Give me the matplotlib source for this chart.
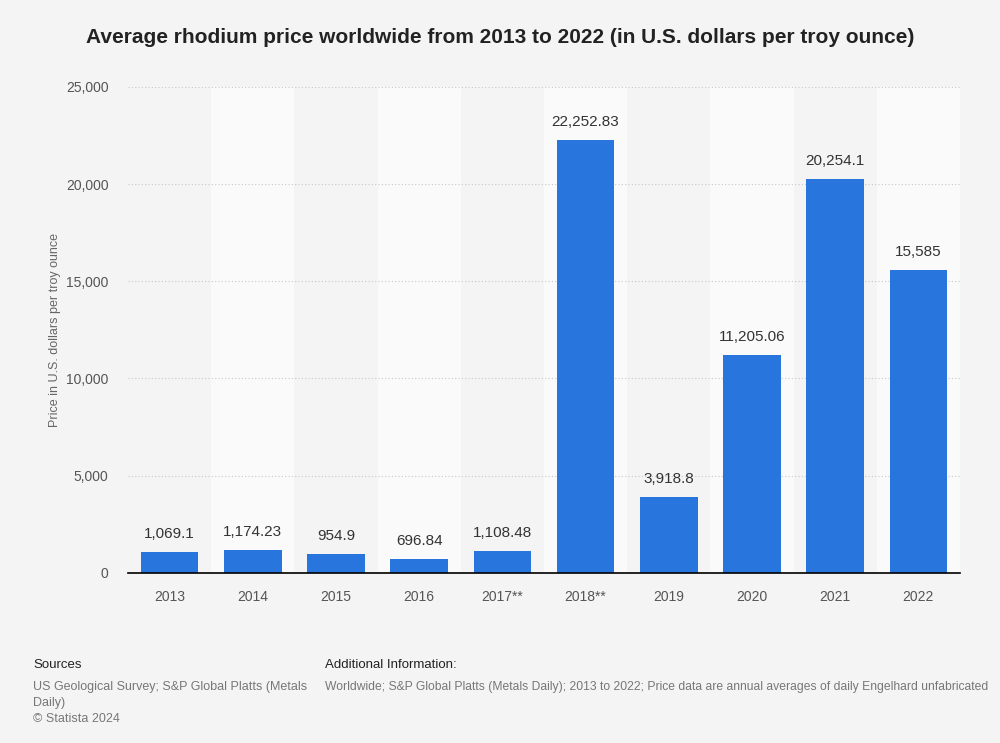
import numpy as np
import matplotlib.pyplot as plt

plt.rcParams['font.family'] = ['Liberation Sans', 'DejaVu Sans']

years = ['2013', '2014', '2015', '2016', '2017**', '2018**', '2019', '2020', '2021', '2022']
prices = [1069.1, 1174.23, 954.9, 696.84, 1108.48, 22252.83, 3918.8, 11205.06, 20254.1, 15585]
labels = ['1,069.1', '1,174.23', '954.9', '696.84', '1,108.48', '22,252.83',
          '3,918.8', '11,205.06', '20,254.1', '15,585']
yticks = [0, 5000, 10000, 15000, 20000, 25000]

bg = '#f4f4f4'
fig = plt.figure(figsize=(10, 7.43), dpi=100, facecolor=bg)
ax = fig.add_axes([0.128, 0.229, 0.832, 0.654])
ax.set_facecolor(bg)

x = np.arange(len(years))
# lighter bands behind every second category
for i in x:
    if i % 2 == 1:
        ax.axvspan(i - 0.5, i + 0.5, color='#fafafa', zorder=0, lw=0)

ax.bar(x, prices, width=0.69, color='#2876dd', zorder=3)
for xi, v, lab in zip(x, prices, labels):
    ax.annotate(lab, (xi, v), xytext=(0, 8), textcoords='offset points',
                ha='center', va='bottom', fontsize=11, color='#333333')

ax.set_xlim(-0.5, len(years) - 0.5)
ax.set_ylim(0, 25000)
ax.set_yticks(yticks)
ax.set_yticklabels(['{:,}'.format(t) for t in yticks])
ax.set_xticks(x)
ax.set_xticklabels(years)
ax.yaxis.grid(True, linestyle=(0, (1, 2)), color='#c8c8c8', lw=0.8, zorder=1)
ax.tick_params(axis='both', length=0, labelsize=10, labelcolor='#555555')
ax.tick_params(axis='x', pad=12)
ax.tick_params(axis='y', pad=14)
for s in ['top', 'right', 'left']:
    ax.spines[s].set_visible(False)
ax.spines['bottom'].set_color('#000000')
ax.spines['bottom'].set_linewidth(1.2)
ax.spines['bottom'].set_zorder(4)
ax.set_ylabel('Price in U.S. dollars per troy ounce', fontsize=9, color='#666666', labelpad=0)
ax.yaxis.set_label_coords(-0.08, 0.5)

fig.text(0.5, 0.950, 'Average rhodium price worldwide from 2013 to 2022 (in U.S. dollars per troy ounce)',
         ha='center', va='center', fontsize=15, fontweight='bold', color='#222222')

fig.text(0.033, 0.105, 'Sources', fontsize=9.5, color='#222222', va='center')
fig.text(0.033, 0.083, 'US Geological Survey; S&P Global Platts (Metals\nDaily)\n© Statista 2024',
         fontsize=9, color='#777777', va='top', linespacing=1.4)
fig.text(0.325, 0.105, 'Additional Information:', fontsize=9.5, color='#222222', va='center')
fig.text(0.325, 0.083, 'Worldwide; S&P Global Platts (Metals Daily); 2013 to 2022; Price data are annual averages of daily Engelhard unfabricated',
         fontsize=8.75, color='#777777', va='top')

fig.savefig('out.png', dpi=100, facecolor=bg)
